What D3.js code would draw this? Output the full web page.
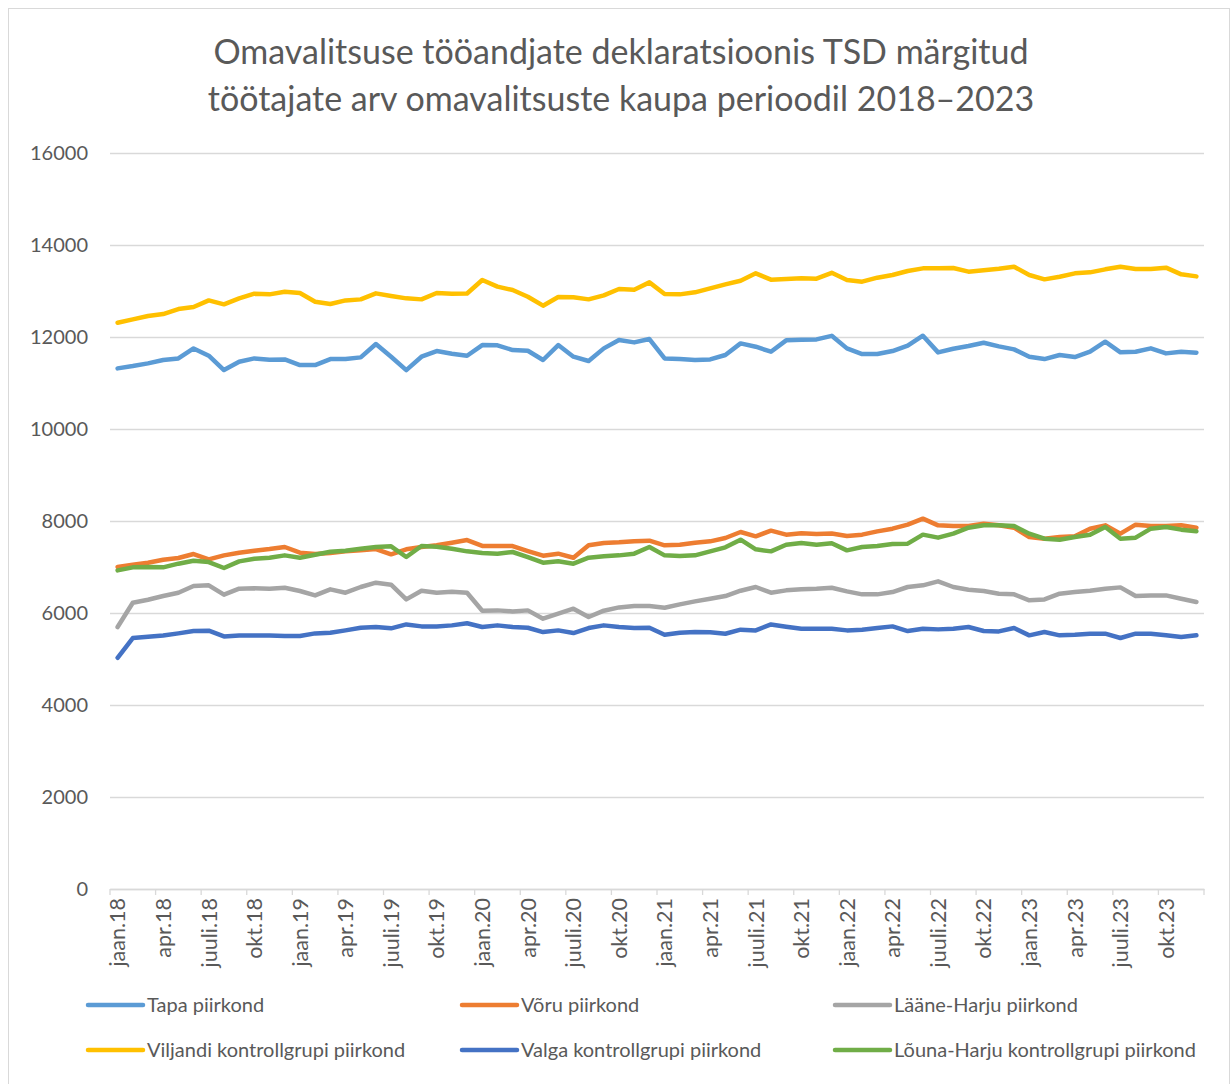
<!DOCTYPE html>
<html>
<head>
<meta charset="utf-8">
<script src="https://cdn.jsdelivr.net/npm/d3@7"></script>
<style>
  body { margin: 0; background: #fff; }
  svg { font-family: Lato, "Open Sans", sans-serif; }
</style>
</head>
<body>
<svg id="chart" width="1231" height="1084"></svg>
<script>
// month names and years for the category axis
const monthNames = ['jaan', 'veebr', 'märts', 'apr', 'mai', 'juuni', 'juuli', 'aug', 'sept', 'okt', 'nov', 'dets'];
const years = ['18', '19', '20', '21', '22', '23'];
const categories = years.flatMap(y => monthNames.map(m => `${m}.${y}`));

const yTicks = [0, 2000, 4000, 6000, 8000, 10000, 12000, 14000, 16000];

const tapa = [11318, 11368, 11426, 11500, 11535, 11752, 11593, 11281, 11463, 11535, 11506, 11513,
  11390, 11390, 11520, 11520, 11557, 11847, 11572, 11281, 11572, 11695, 11637, 11593,
  11825, 11818, 11716, 11702, 11500, 11825, 11572, 11478, 11753, 11934, 11883, 11956,
  11535, 11520, 11500, 11513, 11608, 11861, 11789, 11680, 11927, 11941, 11948, 12025,
  11753, 11629, 11629, 11695, 11810, 12028, 11666, 11745, 11803, 11876, 11796, 11731,
  11572, 11520, 11608, 11564, 11680, 11898, 11666, 11680, 11753, 11644, 11680, 11659];

const voru = [7000, 7050, 7094, 7159, 7195, 7282, 7166, 7253, 7311, 7355, 7391, 7435,
  7311, 7282, 7304, 7340, 7362, 7391, 7275, 7384, 7435, 7471, 7529, 7585,
  7458, 7456, 7456, 7347, 7246, 7290, 7202, 7471, 7522, 7536, 7558, 7572,
  7471, 7485, 7529, 7558, 7630, 7761, 7667, 7790, 7703, 7732, 7717, 7728,
  7674, 7703, 7775, 7833, 7920, 8051, 7906, 7891, 7891, 7942, 7906, 7855,
  7652, 7616, 7652, 7667, 7833, 7906, 7725, 7920, 7891, 7891, 7906, 7855];

const laaneHarju = [5695, 6224, 6289, 6369, 6441, 6586, 6601, 6398, 6528, 6536, 6528, 6550,
  6478, 6383, 6514, 6441, 6565, 6659, 6615, 6296, 6485, 6441, 6463, 6440,
  6050, 6057, 6035, 6057, 5876, 5985, 6093, 5912, 6050, 6122, 6151, 6151,
  6115, 6188, 6253, 6311, 6369, 6485, 6565, 6441, 6492, 6514, 6528, 6550,
  6470, 6405, 6405, 6456, 6565, 6601, 6688, 6565, 6507, 6478, 6420, 6405,
  6275, 6296, 6420, 6456, 6485, 6528, 6557, 6369, 6383, 6383, 6311, 6238];

const viljandi = [12311, 12383, 12456, 12499, 12608, 12652, 12796, 12710, 12840, 12942, 12927, 12985,
  12956, 12768, 12717, 12796, 12818, 12949, 12891, 12840, 12818, 12956, 12942, 12945,
  13239, 13094, 13021, 12876, 12681, 12869, 12862, 12818, 12905, 13043, 13029, 13188,
  12934, 12927, 12971, 13058, 13145, 13224, 13384, 13246, 13261, 13275, 13268, 13395,
  13239, 13203, 13290, 13347, 13435, 13492, 13492, 13500, 13420, 13449, 13485, 13529,
  13347, 13253, 13311, 13384, 13405, 13471, 13529, 13478, 13478, 13507, 13362, 13318];

const valga = [5027, 5455, 5484, 5513, 5557, 5607, 5615, 5491, 5513, 5513, 5513, 5499,
  5499, 5557, 5571, 5622, 5680, 5695, 5666, 5752, 5709, 5709, 5731, 5778,
  5695, 5731, 5695, 5680, 5586, 5622, 5564, 5673, 5731, 5695, 5673, 5680,
  5528, 5571, 5586, 5579, 5550, 5637, 5622, 5752, 5702, 5659, 5659, 5659,
  5622, 5637, 5673, 5709, 5608, 5659, 5644, 5659, 5695, 5608, 5600, 5673,
  5514, 5586, 5514, 5528, 5550, 5550, 5456, 5550, 5550, 5514, 5477, 5514];

const lounaHarju = [6927, 6992, 7000, 6992, 7072, 7137, 7108, 6978, 7123, 7181, 7202, 7253,
  7202, 7268, 7333, 7355, 7398, 7435, 7449, 7217, 7456, 7442, 7398, 7340,
  7304, 7290, 7326, 7217, 7094, 7123, 7072, 7202, 7232, 7253, 7290, 7435,
  7253, 7239, 7253, 7340, 7427, 7594, 7384, 7340, 7485, 7522, 7485, 7518,
  7362, 7435, 7456, 7500, 7507, 7703, 7638, 7725, 7855, 7906, 7906, 7891,
  7725, 7616, 7594, 7652, 7703, 7870, 7616, 7638, 7833, 7870, 7812, 7775];

const seriesNames = ['Tapa piirkond', 'Võru piirkond', 'Lääne-Harju piirkond',
  'Viljandi kontrollgrupi piirkond', 'Valga kontrollgrupi piirkond', 'Lõuna-Harju kontrollgrupi piirkond'];
const seriesColors = ['#5B9BD5', '#ED7D31', '#A5A5A5', '#FFC000', '#4472C4', '#70AD47'];
const seriesValues = [tapa, voru, laaneHarju, viljandi, valga, lounaHarju];

const series = seriesNames.map((name, i) => ({ name, color: seriesColors[i], values: seriesValues[i] }));

const svg = d3.select('#chart');
const textColor = '#595959';
const gridColor = '#d9d9d9';

// chart border
svg.append('rect')
  .attr('x', 8.5).attr('y', 8.5)
  .attr('width', 1221).attr('height', 1090)
  .attr('fill', 'none')
  .attr('stroke', gridColor);

// title
svg.append('text')
  .attr('text-anchor', 'middle')
  .attr('fill', textColor)
  .attr('font-size', 34)
  .selectAll('tspan')
  .data(['Omavalitsuse tööandjate deklaratsioonis TSD märgitud', 'töötajate arv omavalitsuste kaupa perioodil 2018–2023'])
  .join('tspan')
  .attr('x', 621)
  .attr('y', (d, i) => 64 + i * 47)
  .text(d => d);

const x = d3.scaleBand().domain(categories).range([110, 1204]);
const y = d3.scaleLinear().domain([0, 16000]).range([889, 153]);

// gridlines + y labels
const yAxis = svg.append('g')
  .attr('transform', 'translate(110,0)')
  .call(d3.axisLeft(y).tickValues(yTicks).tickSize(-1094).tickFormat(d3.format('d')).tickPadding(22));
yAxis.select('.domain').remove();
yAxis.selectAll('.tick line').attr('stroke', gridColor).attr('stroke-width', 1.3);
yAxis.selectAll('.tick text')
  .attr('fill', textColor)
  .attr('font-size', 20)
  .attr('font-family', 'Lato, sans-serif');

// category axis
const xAxis = svg.append('g')
  .attr('transform', 'translate(0,889)')
  .call(d3.axisBottom(x).tickValues(categories.filter((d, i) => i % 3 === 0)).tickSize(0));
xAxis.select('.domain').attr('stroke', gridColor).attr('stroke-width', 1.3);
xAxis.selectAll('.tick text')
  .attr('fill', textColor)
  .attr('font-size', 21.5)
  .attr('font-family', 'Lato, sans-serif')
  .attr('text-anchor', 'end')
  .attr('transform', 'rotate(-90)')
  .attr('x', -9)
  .attr('y', 0)
  .attr('dy', '0.36em');

// tick marks at category boundaries
const tickX = categories.filter((d, i) => i % 3 === 0).map(d => x(d)).concat([x.range()[1]]);
svg.append('g')
  .selectAll('line')
  .data(tickX)
  .join('line')
  .attr('x1', d => d).attr('x2', d => d)
  .attr('y1', 889).attr('y2', 895)
  .attr('stroke', gridColor)
  .attr('stroke-width', 1.3);

// lines
const line = d3.line()
  .x((d, i) => x(categories[i]) + x.bandwidth() / 2)
  .y(d => y(d));

svg.append('g')
  .selectAll('path')
  .data(series)
  .join('path')
  .attr('d', d => line(d.values))
  .attr('fill', 'none')
  .attr('stroke', d => d.color)
  .attr('stroke-width', 4.5)
  .attr('stroke-linejoin', 'round')
  .attr('stroke-linecap', 'round');

// legend
const legendCols = [88, 462, 835];
const legendRows = [1005, 1050];
const legend = svg.append('g')
  .selectAll('g')
  .data(series)
  .join('g')
  .attr('transform', (d, i) => `translate(${legendCols[i % 3]},${legendRows[Math.floor(i / 3)]})`);

legend.append('line')
  .attr('x1', 0).attr('x2', 55)
  .attr('stroke', d => d.color)
  .attr('stroke-width', 4.5)
  .attr('stroke-linecap', 'round');

legend.append('text')
  .attr('x', 59)
  .attr('dy', '0.35em')
  .attr('fill', textColor)
  .attr('font-size', 20)
  .text(d => d.name);
</script>
</body>
</html>
